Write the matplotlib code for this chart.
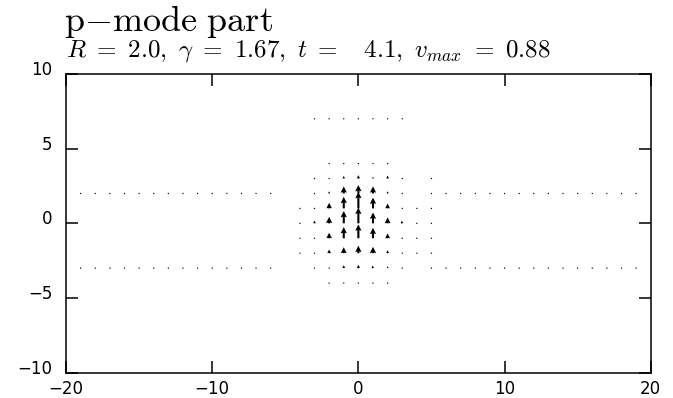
import numpy as np
import matplotlib.pyplot as plt
import matplotlib.transforms as mtransforms

plt.rcParams["mathtext.fontset"] = "cm"
plt.rcParams["font.family"] = "DejaVu Sans"

# grid columns / rows of the central sampling block
core_x = [-4, -3, -2, -1, 0, 1, 2, 3, 4, 5]
core_y = [7, 4, 3, 2, 1, 0, -1, -2, -3, -4]

nan = np.nan
# vertical velocity component on the block (nan = not sampled)
v_core = [
    [nan, 0.0, 0.0, 0.0, 0.0, 0.0, 0.0, 0.0, nan, nan],
    [nan, nan, 0.0, 0.0, 0.0, 0.0, 0.0, nan, nan, nan],
    [nan, 0.0, 0.0, 0.14, 0.18, 0.1, 0.16, 0.0, nan, 0.0],
    [nan, 0.0, 0.12, 0.38, 0.45, 0.38, 0.12, 0.0, nan, 0.0],
    [0.0, 0.04, 0.3, 0.62, 0.88, 0.58, 0.26, 0.0, 0.0, 0.0],
    [0.0, 0.15, 0.35, 0.66, 0.84, 0.58, 0.32, 0.14, 0.0, 0.0],
    [0.0, 0.04, 0.3, 0.6, 0.74, 0.56, 0.26, 0.03, 0.0, 0.0],
    [0.0, 0.03, 0.2, 0.32, 0.4, 0.34, 0.16, 0.0, 0.0, 0.0],
    [nan, 0.0, 0.03, 0.16, 0.18, 0.14, 0.1, 0.0, nan, 0.0],
    [nan, nan, 0.0, 0.0, 0.0, 0.0, 0.0, nan, nan, nan],
]
# horizontal velocity component on the block
u_core = [
    [nan, 0.0, 0.0, 0.0, 0.0, 0.0, 0.0, 0.0, nan, nan],
    [nan, nan, 0.0, 0.0, 0.0, 0.0, 0.0, nan, nan, nan],
    [nan, 0.0, 0.0, 0.0, 0.0, 0.0, 0.0, 0.0, nan, 0.0],
    [nan, 0.0, 0.0, 0.0, 0.0, 0.0, 0.0, 0.0, nan, 0.0],
    [0.0, 0.0, 0.0, 0.0, 0.0, 0.0, 0.0, -0.08, 0.0, 0.0],
    [0.0, 0.0, 0.0, 0.0, 0.0, 0.0, 0.0, -0.05, 0.0, 0.0],
    [0.0, 0.0, 0.0, 0.0, 0.0, 0.0, 0.0, 0.0, 0.0, 0.0],
    [0.0, 0.0, 0.0, 0.0, 0.0, 0.0, 0.0, 0.0, 0.0, 0.0],
    [nan, 0.0, 0.0, 0.0, 0.0, -0.05, 0.0, 0.0, nan, 0.0],
    [nan, nan, 0.0, 0.0, 0.0, 0.0, 0.0, nan, nan, nan],
]

# outer rows sampled across the whole domain (velocity ~ 0 there)
side_rows_y = [2, -3]
side_x = list(range(-19, -5)) + list(range(6, 20))

x_ticks = [-20, -10, 0, 10, 20]
y_ticks = [-10, -5, 0, 5, 10]

# collect points
gx, gy = np.meshgrid(core_x, core_y)
V = np.array(v_core)
U = np.array(u_core)
ok = ~np.isnan(V)
X = list(gx[ok])
Y = list(gy[ok])
Uq = list(U[ok])
Vq = list(V[ok])
for yr in side_rows_y:
    for xs in side_x:
        X.append(xs)
        Y.append(yr)
        Uq.append(0.0)
        Vq.append(0.0)

fig = plt.figure(figsize=(6.73, 3.98), dpi=100)
ax = fig.add_axes([0.0981, 0.0636, 0.8688, 0.7505])

ax.quiver(X, Y, Uq, Vq, angles="xy", scale_units="xy", scale=0.8,
          pivot="tail", color="black", width=0.0036, headwidth=3.0,
          headlength=3.0, headaxislength=2.7, minlength=0.7)

ax.set_xlim(-20, 20)
ax.set_ylim(-10, 10)
ax.set_xticks(x_ticks)
ax.set_yticks(y_ticks)
ax.set_xticklabels(["\u2212" + str(-t) if t < 0 else str(t) for t in x_ticks])
ax.set_yticklabels(["\u2212" + str(-t) if t < 0 else str(t) for t in y_ticks])
ax.tick_params(direction="in", length=8.5, width=1.1, top=True, right=True,
               labelsize=12, colors="black")
ax.tick_params(axis="x", pad=5)
ax.tick_params(axis="y", pad=10)
for s in ax.spines.values():
    s.set_linewidth(1.1)

# y labels sit a little above their ticks
shift = mtransforms.ScaledTranslation(0, 6 / 100, fig.dpi_scale_trans)
for lab in ax.get_yticklabels():
    lab.set_transform(lab.get_transform() + shift)

fig.text(0.095, 0.922, r"$\mathrm{p{-}mode\ part}$", fontsize=26,
         va="baseline", ha="left")
fig.text(0.098, 0.857,
         r"$R\ =\ 2.0,\ \gamma\ =\ 1.67,\ t\ =\ \ \ 4.1,\ v_{max}\ =\ 0.88$",
         fontsize=18, va="baseline", ha="left")

fig.savefig("out.png", dpi=100)
